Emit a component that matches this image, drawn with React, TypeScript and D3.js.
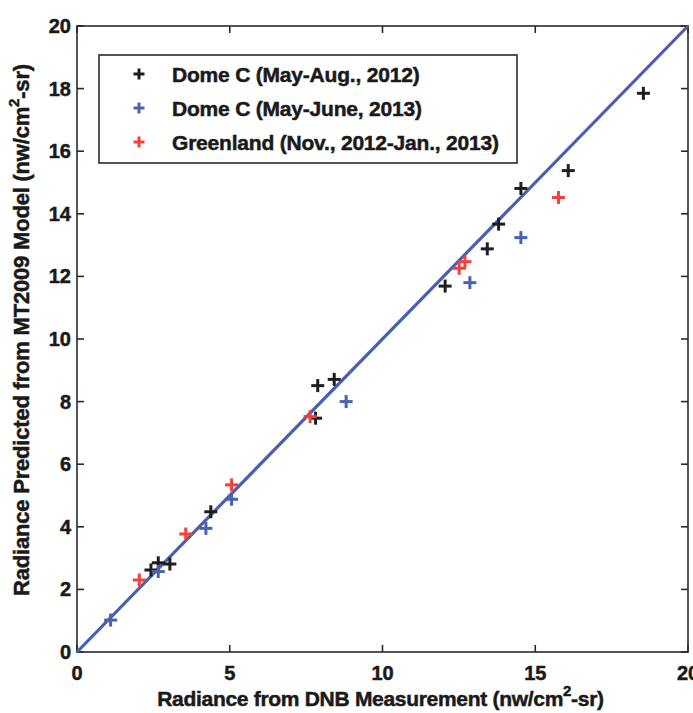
import React from "react";
import * as d3 from "d3";

type Pt = [number, number];

const domeC2012: Pt[] = [
  [18.54, 17.85], [16.08, 15.38], [14.53, 14.81], [13.8, 13.67], [13.43, 12.88],
  [12.05, 11.69], [7.88, 8.51], [8.42, 8.71], [7.81, 7.47], [4.38, 4.48],
  [2.42, 2.62], [2.66, 2.85], [3.04, 2.81],
];
const domeC2013: Pt[] = [
  [14.53, 13.24], [12.86, 11.8], [8.81, 8.0], [5.06, 4.88], [4.22, 3.95],
  [2.66, 2.57], [1.1, 1.02],
];
const greenland: Pt[] = [
  [15.76, 14.52], [12.7, 12.47], [12.51, 12.26], [7.63, 7.52], [5.06, 5.34],
  [3.56, 3.77], [2.04, 2.3],
];

const seriesNames = [
  "Dome C (May-Aug., 2012)",
  "Dome C (May-June, 2013)",
  "Greenland (Nov., 2012-Jan., 2013)",
];
const seriesColors = ["#1e1e1e", "#4a62b4", "#f0423a"];
const seriesData = [domeC2012, domeC2013, greenland];

const xTicks = [0, 5, 10, 15, 20];
const yTicks = [0, 2, 4, 6, 8, 10, 12, 14, 16, 18, 20];
const oneToOne: Pt[] = [[0, 0], [20, 20]];

const W = 693;
const H = 713;
const left = 77, right = 688, top = 26, bottom = 652;

const FONT = "'Liberation Sans', Arial, sans-serif";
const INK = "#1a1a1a";

function Plus({ x, y, color, size = 6.5, sw = 3 }: { x: number; y: number; color: string; size?: number; sw?: number }) {
  return (
    <g stroke={color} strokeWidth={sw}>
      <line x1={x - size} x2={x + size} y1={y} y2={y} />
      <line x1={x} x2={x} y1={y - size} y2={y + size} />
    </g>
  );
}

export default function App() {
  const x = d3.scaleLinear().domain([0, 20]).range([left, right]);
  const y = d3.scaleLinear().domain([0, 20]).range([bottom, top]);
  const line = d3.line<Pt>().x((d) => x(d[0])).y((d) => y(d[1]));
  const axisColor = "#2a2a2a";
  const tickLen = 7;
  // heavy text: fill plus a thin outline of the same ink
  const heavy = { fill: INK, stroke: INK, strokeWidth: 0.5 };

  return (
    <svg
      width={W}
      height={H}
      style={{ position: "absolute", left: 0, top: 0, background: "#fff" }}
      fontFamily={FONT}
      fontWeight="bold"
    >
      <rect x={0} y={0} width={W} height={H} fill="#fff" />
      {/* frame */}
      <rect x={left} y={top} width={right - left} height={bottom - top} fill="none" stroke={axisColor} strokeWidth={1.6} />
      {/* inward ticks on all four sides */}
      {xTicks.map((t) => (
        <g key={"xt" + t} stroke={axisColor} strokeWidth={1.6}>
          <line x1={x(t)} x2={x(t)} y1={bottom} y2={bottom - tickLen} />
          <line x1={x(t)} x2={x(t)} y1={top} y2={top + tickLen} />
        </g>
      ))}
      {yTicks.map((t) => (
        <g key={"yt" + t} stroke={axisColor} strokeWidth={1.6}>
          <line x1={left} x2={left + tickLen} y1={y(t)} y2={y(t)} />
          <line x1={right} x2={right - tickLen} y1={y(t)} y2={y(t)} />
        </g>
      ))}
      {xTicks.map((t) => (
        <text key={"xl" + t} x={x(t)} y={bottom + 28} textAnchor="middle" fontSize={20} {...heavy}>
          {t}
        </text>
      ))}
      {yTicks.map((t) => (
        <text key={"yl" + t} x={left - 6} y={y(t) + 7} textAnchor="end" fontSize={20} {...heavy}>
          {t}
        </text>
      ))}

      {/* 1:1 line */}
      <path d={line(oneToOne) || ""} fill="none" stroke="#4a5fb2" strokeWidth={3.2} />

      {/* data points */}
      {seriesData.map((s, i) =>
        s.map((d, j) => <Plus key={i + "-" + j} x={x(d[0])} y={y(d[1])} color={seriesColors[i]} />)
      )}

      {/* legend */}
      <rect x={99} y={55} width={418} height={108} fill="#fff" stroke={axisColor} strokeWidth={1.6} />
      {seriesNames.map((n, i) => {
        const cy = 74 + i * 34;
        return (
          <g key={"lg" + i}>
            <Plus x={139} y={cy} color={seriesColors[i]} size={5.5} sw={3} />
            <text x={172} y={cy + 7.5} fontSize={21} letterSpacing={-0.2} {...heavy}>
              {n}
            </text>
          </g>
        );
      })}

      {/* axis labels */}
      <text x={(left + right) / 2 - 2} y={706} textAnchor="middle" fontSize={21} letterSpacing={-0.3} {...heavy}>
        Radiance from DNB Measurement (nw/cm
        <tspan dy={-10} fontSize={15}>2</tspan>
        <tspan dy={10}>-sr)</tspan>
      </text>
      <text
        transform={`translate(29, 330) rotate(-90)`}
        textAnchor="middle"
        fontSize={22}
        letterSpacing={-0.2}
        {...heavy}
      >
        Radiance Predicted from MT2009 Model (nw/cm
        <tspan dy={-10} fontSize={15}>2</tspan>
        <tspan dy={10}>-sr)</tspan>
      </text>
    </svg>
  );
}
